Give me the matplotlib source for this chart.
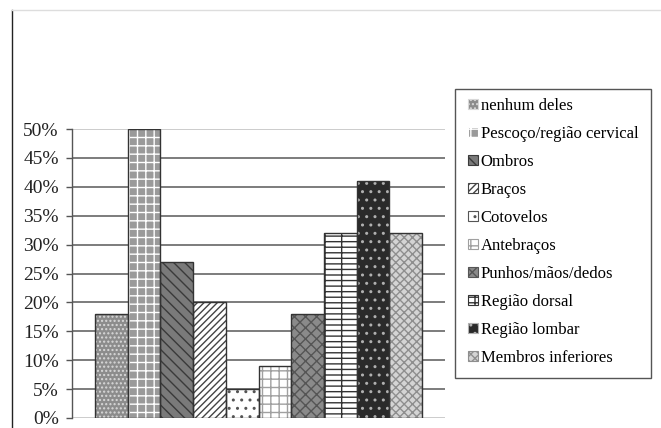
import numpy as np
import matplotlib.pyplot as plt
from matplotlib.patches import Patch, Rectangle
from matplotlib.lines import Line2D

plt.rcParams['font.family'] = ['Liberation Serif', 'DejaVu Serif']
plt.rcParams['hatch.linewidth'] = 1.0

categories = ['nenhum deles', 'Pescoço/região cervical', 'Ombros', 'Braços',
              'Cotovelos', 'Antebraços', 'Punhos/mãos/dedos', 'Região dorsal',
              'Região lombar', 'Membros inferiores']
values = [0.18, 0.50, 0.27, 0.20, 0.05, 0.09, 0.18, 0.32, 0.41, 0.32]
yticks = [0.0, 0.05, 0.10, 0.15, 0.20, 0.25, 0.30, 0.35, 0.40, 0.45, 0.50]

# fill, hatch pattern, hatch colour for each series
faces = ['#8c8c8c', '#9a9a9a', '#7a7a7a', '#ffffff', '#ffffff',
         '#ffffff', '#8a8a8a', '#ffffff', '#2a2a2a', '#d4d4d4']
hatches = ['....', '++', '\\\\\\', '/////', '..',
           '++', 'xxx', '---|', '..', 'xxxx']
hcolors = ['#d8d8d8', '#ffffff', '#3a3a3a', '#444444', '#555555',
           '#a0a0a0', '#555555', '#333333', '#b0b0b0', '#8e8e8e']

W, H = 661, 428
fig = plt.figure(figsize=(W/100, H/100), dpi=100)
ax = fig.add_axes([72/W, 1-418/H, (445-72)/W, (418-129)/H])

x = np.arange(len(values))
handles = []
for i, v in enumerate(values):
    ax.bar(x[i], v, width=1, color=faces[i], hatch=hatches[i],
           edgecolor=hcolors[i], linewidth=0, zorder=3)
    ax.bar(x[i], v, width=1, fill=False, edgecolor='#333333',
           linewidth=1, zorder=4)
    handles.append(Patch(facecolor=faces[i], hatch=hatches[i],
                         edgecolor=hcolors[i], linewidth=0.8))

ax.set_xlim(-1.2, 10.2)
ax.set_ylim(0, 0.5)
ax.set_yticks(yticks)
ax.set_yticklabels([f'{int(round(t*100))}%' for t in yticks], fontsize=14,
                   color='#222222')
ax.set_xticks([])
ax.tick_params(axis='y', length=4.5, width=1, color='#555555', pad=5)

# horizontal gridlines: top and base lighter than the rest
for t in yticks:
    c = '#c4c4c4' if t in (0.0, 0.5) else '#666666'
    ax.axhline(t, color=c, linewidth=1.2, zorder=1)

for s in ['top', 'right', 'bottom']:
    ax.spines[s].set_visible(False)
ax.spines['left'].set_color('#555555')
ax.spines['left'].set_linewidth(1)

# legend box drawn separately so its width can be fixed
fig.add_artist(Rectangle((455/W, 1-378/H), 196/W, 289/H, fill=False,
                         edgecolor='#555555', linewidth=1,
                         transform=fig.transFigure))
fig.legend(handles, categories, loc='upper left',
           bbox_to_anchor=(462/W, 1-92/H), borderaxespad=0,
           fontsize=12, frameon=False,
           handlelength=0.6, handleheight=0.6, handletextpad=0.18,
           labelspacing=0.72, borderpad=0.35)

# outer frame lines
fig.add_artist(Line2D([12/W, 12/W], [0, 1-10/H], color='#222222',
                      linewidth=1, transform=fig.transFigure))
fig.add_artist(Line2D([12/W, 1], [1-10/H, 1-10/H], color='#dddddd',
                      linewidth=1, transform=fig.transFigure))

fig.savefig('out.png', dpi=100)
